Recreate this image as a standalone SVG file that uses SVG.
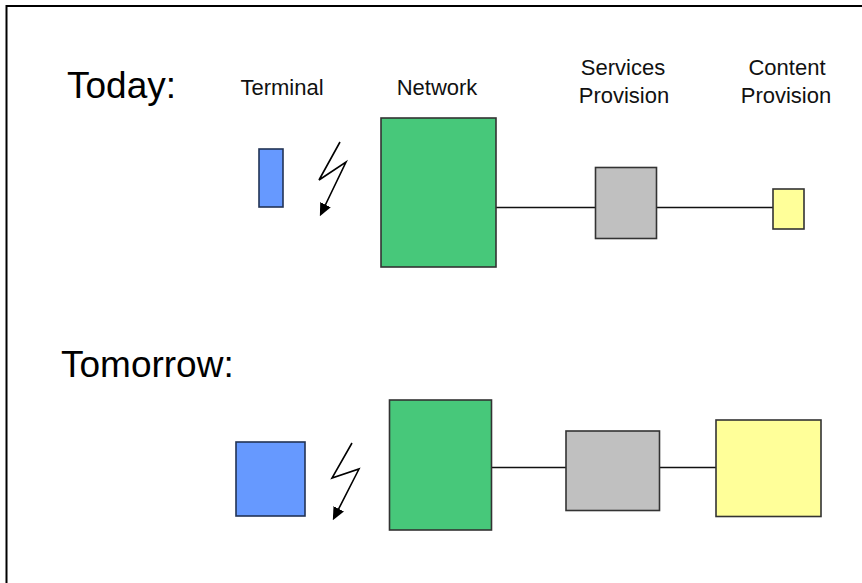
<svg xmlns="http://www.w3.org/2000/svg" width="862" height="583" viewBox="0 0 862 583">
  <style>
    .title { font-family: "Liberation Sans", Arial, sans-serif; font-size: 37px; fill: #000; }
    .label { font-family: "Liberation Sans", Arial, sans-serif; font-size: 22px; fill: #111; }
    .box { stroke: #333; stroke-width: 1.6; }
    .terminal { fill: #6699FF; stroke: #223355; }
    .network { fill: #47C87A; }
    .service { fill: #C0C0C0; }
    .content { fill: #FFFF99; }
    .link { stroke: #111; stroke-width: 1.6; fill: none; }
    .bolt { stroke: #000; stroke-width: 1.6; fill: none; marker-end: url(#tip); }
  </style>
  <defs>
    <marker id="tip" viewBox="0 0 10 10" refX="8" refY="5" markerWidth="13" markerHeight="13" orient="auto" markerUnits="userSpaceOnUse">
      <path d="M0,0.5 L10,5 L0,9.5 z" fill="#000"/>
    </marker>
  </defs>

  <rect width="862" height="583" fill="#fff"/>
  <!-- frame (top and left edges) -->
  <path d="M6.5,583 V6 H862" fill="none" stroke="#000" stroke-width="2"/>

  <!-- headings -->
  <text class="title" x="67" y="98">Today:</text>
  <text class="title" x="61" y="377">Tomorrow:</text>

  <!-- column labels -->
  <text class="label" x="282" y="95" text-anchor="middle">Terminal</text>
  <text class="label" x="437" y="95" text-anchor="middle">Network</text>
  <text class="label" x="623" y="75" text-anchor="middle">Services</text>
  <text class="label" x="624" y="103" text-anchor="middle">Provision</text>
  <text class="label" x="787" y="75" text-anchor="middle">Content</text>
  <text class="label" x="786" y="103" text-anchor="middle">Provision</text>

  <!-- connectors -->
  <g id="connectors">
    <line class="link" x1="496" y1="207.5" x2="595" y2="207.5"/>
    <line class="link" x1="656" y1="207.5" x2="773" y2="207.5"/>
    <line class="link" x1="491" y1="467.5" x2="566" y2="467.5"/>
    <line class="link" x1="656" y1="467.5" x2="716" y2="467.5"/>
    <polyline class="bolt" points="340,142 319,180 346,162 321,214"/>
    <polyline class="bolt" points="352,443 332,478 359,469 334,518"/>
  </g>

  <!-- today -->
  <g id="terminal-today"><rect class="box terminal" x="259" y="149" width="24" height="58"/></g>
  <g id="network-today"><rect class="box network" x="381" y="118" width="115" height="149"/></g>
  <g id="services-today"><rect class="box service" x="595.5" y="167.5" width="61" height="71"/></g>
  <g id="content-today"><rect class="box content" x="773" y="189" width="31" height="40"/></g>

  <!-- tomorrow -->
  <g id="terminal-tomorrow"><rect class="box terminal" x="236" y="442" width="69" height="74"/></g>
  <g id="network-tomorrow"><rect class="box network" x="389.5" y="400" width="102" height="130"/></g>
  <g id="services-tomorrow"><rect class="box service" x="566" y="431" width="93.5" height="79.5"/></g>
  <g id="content-tomorrow"><rect class="box content" x="716" y="420" width="105" height="96.5"/></g>
</svg>
